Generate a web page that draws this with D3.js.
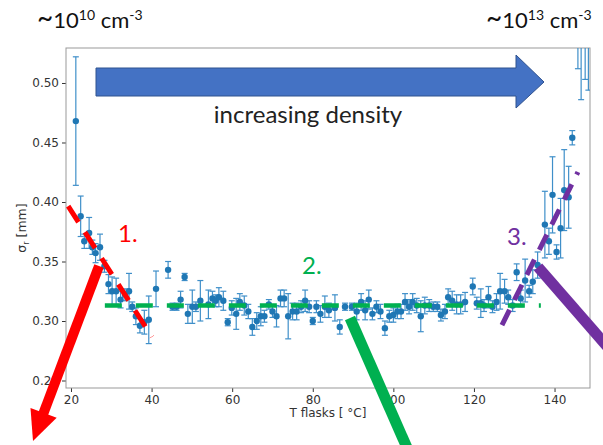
<!DOCTYPE html>
<html><head><meta charset="utf-8">
<script src="https://cdn.jsdelivr.net/npm/d3@7"></script>
<style>body{margin:0;background:#fff}svg{display:block}</style>
</head><body>
<svg id="c" width="603" height="445"></svg>
<script>
// ---- data ----
const temps = [21.2,22.4,23.3,24.5,25.3,26.1,27.2,28.3,29.3,30.2,31.2,32.3,33.4,34.4,35.2,36.1,37.1,38.2,39.3,41.1,44.1,45.2,46.2,47.2,48.2,49.0,50.1,51.0,52.1,54.1,55.1,55.9,56.7,57.8,58.9,59.9,61.0,61.9,63.0,64.0,65.0,66.1,67.1,68.0,69.1,70.0,71.0,72.0,72.9,73.9,75.0,76.0,77.1,78.1,79.1,80.0,80.9,81.9,83.0,84.0,85.5,86.7,88.0,89.7,90.9,92.0,93.0,93.9,94.8,95.8,96.8,97.9,99.0,100.0,101.0,101.9,102.9,103.9,104.8,105.8,106.8,107.8,108.9,109.9,110.9,111.8,112.8,113.6,114.6,115.7,116.7,117.8,119.7,120.7,121.7,122.5,123.6,124.6,125.6,126.5,127.6,128.5,129.6,130.6,131.6,132.7,133.7,134.6,135.8,137.6,138.6,139.5,140.5,141.5,142.4,143.5,144.4,145.8,146.6,147.6,148.4];
const sigma = [0.468,0.388,0.367,0.374,0.362,0.357,0.362,0.346,0.331,0.325,0.325,0.318,0.322,0.325,0.312,0.304,0.296,0.299,0.301,0.327,0.343,0.312,0.312,0.318,0.337,0.306,0.312,0.312,0.317,0.314,0.319,0.317,0.320,0.317,0.299,0.311,0.306,0.316,0.313,0.308,0.295,0.300,0.304,0.304,0.314,0.308,0.304,0.319,0.319,0.304,0.308,0.308,0.312,0.317,0.312,0.300,0.312,0.306,0.312,0.309,0.311,0.295,0.312,0.312,0.308,0.316,0.309,0.318,0.306,0.312,0.308,0.294,0.304,0.305,0.308,0.308,0.316,0.312,0.316,0.313,0.304,0.313,0.313,0.312,0.312,0.305,0.308,0.320,0.317,0.314,0.314,0.316,0.329,0.315,0.315,0.313,0.320,0.312,0.316,0.325,0.325,0.320,0.313,0.341,0.319,0.334,0.325,0.333,0.347,0.381,0.367,0.406,0.358,0.378,0.410,0.404,0.454,0.560,0.600,0.570,0.620];
const errs = [0.054,0.017,0.006,0.013,0.006,0.008,0.011,0.005,0.008,0.012,0.011,0.007,0.005,0.015,0.004,0.007,0.006,0.010,0.020,0.015,0.007,0.003,0.003,0.007,0.003,0.008,0.014,0.004,0.017,0.012,0.006,0.005,0.008,0.008,0.003,0.006,0.013,0.007,0.008,0.006,0.007,0.007,0.008,0.005,0.004,0.005,0.009,0.007,0.007,0.019,0.007,0.007,0.005,0.009,0.005,0.003,0.005,0.007,0.009,0.006,0.011,0.006,0.003,0.003,0.007,0.007,0.008,0.008,0.005,0.005,0.006,0.006,0.005,0.006,0.006,0.006,0.007,0.006,0.007,0.006,0.013,0.007,0.005,0.004,0.004,0.005,0.006,0.007,0.008,0.008,0.008,0.008,0.007,0.005,0.012,0.005,0.009,0.005,0.007,0.015,0.010,0.006,0.005,0.007,0.007,0.018,0.005,0.010,0.011,0.028,0.011,0.032,0.006,0.025,0.034,0.026,0.006,0.048,0.114,0.067,0.126];
const xTicks = [20,40,60,80,100,120,140];
const yTicks = [0.25,0.30,0.35,0.40,0.45,0.50];
const xLabel = "T flasks [ °C]";
// guide lines (data coords)
const plateau = {t0:28.4, t1:136.6, v:0.313};
const regime1 = [[19.3,0.3966],[40.1,0.2866]];
const regime3 = [[126.95,0.2966],[145.8,0.4252]];

// ---- layout ----
const svg = d3.select("#c");
const L=66, R=590, T=48, B=388;
const x = d3.scaleLinear().domain([18.76,148.8]).range([L,R]);
const y = d3.scaleLinear().domain([0.24370,0.52941]).range([B,T]);
const blue="#1f77b4";

// axes
const gx = svg.append("g").attr("transform",`translate(0,${B})`)
  .call(d3.axisBottom(x).tickValues(xTicks).tickSize(4).tickPadding(3).tickFormat(d3.format("d")));
const gy = svg.append("g").attr("transform",`translate(${L},0)`)
  .call(d3.axisLeft(y).tickValues(yTicks).tickSize(4).tickPadding(3).tickFormat(d3.format(".2f")));
[gx,gy].forEach(g=>{
  g.select(".domain").remove();
  g.selectAll("line").attr("stroke","#333");
  g.selectAll("text").attr("fill","#333").style("font-family","DejaVu Sans").style("font-size","12px");
});
svg.append("rect").attr("x",L).attr("y",T).attr("width",R-L).attr("height",B-T)
  .attr("fill","none").attr("stroke","#999").attr("stroke-width",1);

svg.append("text").attr("x",(L+R)/2).attr("y",417).attr("text-anchor","middle")
  .style("font-family","DejaVu Sans").style("font-size","12px").attr("fill","#333").text(xLabel);
const yl = svg.append("text").attr("transform","translate(26,228) rotate(-90)").attr("text-anchor","middle")
  .style("font-family","DejaVu Sans").style("font-size","12.5px").attr("fill","#333");
yl.append("tspan").text("σ");
yl.append("tspan").attr("dy",3).style("font-size","8px").text("r");
yl.append("tspan").attr("dy",-3).text(" [mm]");

// data
svg.append("clipPath").attr("id","clip").append("rect").attr("x",L).attr("y",T).attr("width",R-L).attr("height",B-T);
const data = temps.map((t,i)=>({t,v:sigma[i],e:errs[i]}));
const gd = svg.append("g").attr("clip-path","url(#clip)");
const eb = gd.selectAll("g.eb").data(data).join("g").attr("stroke","#3f8fc9").attr("stroke-width",1.2);
eb.append("line").attr("x1",d=>x(d.t)).attr("x2",d=>x(d.t)).attr("y1",d=>y(d.v-d.e)).attr("y2",d=>y(d.v+d.e));
eb.append("line").attr("x1",d=>x(d.t)-3).attr("x2",d=>x(d.t)+3).attr("y1",d=>y(d.v-d.e)).attr("y2",d=>y(d.v-d.e));
eb.append("line").attr("x1",d=>x(d.t)-3).attr("x2",d=>x(d.t)+3).attr("y1",d=>y(d.v+d.e)).attr("y2",d=>y(d.v+d.e));
gd.selectAll("circle").data(data).join("circle").attr("cx",d=>x(d.t)).attr("cy",d=>y(d.v)).attr("r",3.2).attr("fill",blue);

// guide lines
svg.append("line").attr("x1",x(plateau.t0)).attr("x2",x(plateau.t1)).attr("y1",y(plateau.v)).attr("y2",y(plateau.v))
  .attr("stroke","#00B050").attr("stroke-width",4.5).attr("stroke-dasharray","17,14");
svg.append("line").attr("x1",x(regime1[0][0])).attr("y1",y(regime1[0][1])).attr("x2",x(regime1[1][0])).attr("y2",y(regime1[1][1]))
  .attr("stroke","#FF0000").attr("stroke-width",5).attr("stroke-dasharray","19,12");
svg.append("line").attr("x1",x(regime3[0][0])).attr("y1",y(regime3[0][1])).attr("x2",x(regime3[1][0])).attr("y2",y(regime3[1][1]))
  .attr("stroke","#7030A0").attr("stroke-width",5).attr("stroke-dasharray","17,11");

// annotations (slide overlays)
const ann = svg.append("g");
ann.append("polygon").attr("points","96,68 516,68 516,55 544,82 516,108 516,96 96,96")
  .attr("fill","#4472C4").attr("stroke","#2F528F").attr("stroke-width",1);
const fontA = "Lato, 'Open Sans', sans-serif";
ann.append("text").attr("x",308).attr("y",123).attr("text-anchor","middle").style("font-family",fontA)
  .style("font-size","24px").attr("fill","#222").text("increasing density");
function dens(xp, exp){
  const t = ann.append("text").attr("x",xp).attr("y",28).style("font-family",fontA).style("font-size","22px").attr("fill","#111");
  t.append("tspan").style("font-size","28px").text("~");
  t.append("tspan").text("10");
  t.append("tspan").attr("dy",-8).style("font-size","14px").text(exp);
  t.append("tspan").attr("dy",8).text(" cm");
  t.append("tspan").attr("dy",-8).style("font-size","14px").text("-3");
}
dens(37,"10"); dens(486,"13");
ann.append("text").attr("x",118).attr("y",242).style("font-family",fontA).style("font-size","24px").attr("fill","#FF0000").text("1.");
ann.append("text").attr("x",302).attr("y",274).style("font-family",fontA).style("font-size","24px").attr("fill","#00B050").text("2.");
ann.append("text").attr("x",507).attr("y",245).style("font-family",fontA).style("font-size","24px").attr("fill","#7030A0").text("3.");

// thick pointer lines
function thick(x1,y1,x2,y2,col,w){ann.append("line").attr("x1",x1).attr("y1",y1).attr("x2",x2).attr("y2",y2).attr("stroke",col).attr("stroke-width",w);}
// red arrow with head
(function(){
  const tx=99,ty=266,hx=33,hy=441; const dx=hx-tx,dy=hy-ty,l=Math.hypot(dx,dy),ux=dx/l,uy=dy/l;
  const bx=hx-30*ux, by=hy-30*uy, px=-uy, py=ux;
  thick(tx,ty,bx+2*ux,by+2*uy,"#FF0000",10);
  ann.append("polygon").attr("points",`${hx},${hy} ${bx+14*px},${by+14*py} ${bx-14*px},${by-14*py}`).attr("fill","#FF0000");
})();
thick(350,318,408,450,"#00B050",11);
thick(538,267,612,352,"#7030A0",11);
</script>
</body></html>
